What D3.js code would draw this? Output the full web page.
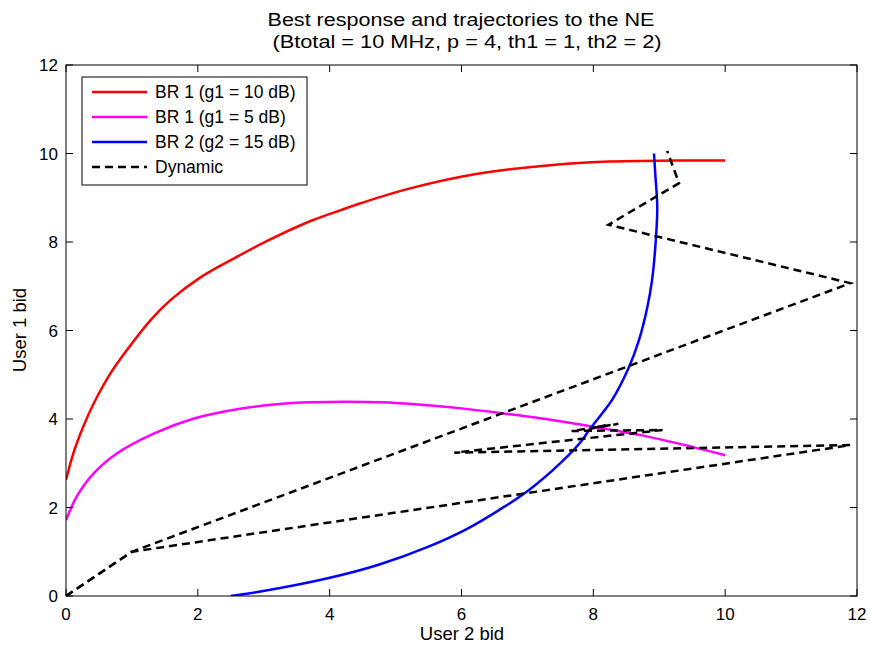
<!DOCTYPE html>
<html><head><meta charset="utf-8">
<script src="https://cdn.jsdelivr.net/npm/d3@7"></script>
<style>body{margin:0;background:#fff}svg{display:block}text{font-family:"Liberation Sans",Arial,sans-serif}</style>
</head><body>
<script>
// ---- data ----
const xTicks = [0,2,4,6,8,10,12];
const yTicks = [0,2,4,6,8,10,12];
const br1aX = [0,0.11,0.26,0.42,0.67,0.92,1.28,1.58,2.04,2.55,3.06,3.72,4.17,4.48,5.19,6.20,7.22,8.23,9.25,10.0];
const br1aY = [2.62,3.22,3.82,4.35,5.02,5.55,6.23,6.68,7.20,7.63,8.03,8.48,8.72,8.88,9.20,9.53,9.72,9.82,9.84,9.84];
const br1bX = [0,0.16,0.42,0.77,1.33,1.94,2.55,3.16,3.72,4.78,5.49,6.0,6.56,7.22,7.98,8.74,9.50,10.0];
const br1bY = [1.71,2.24,2.77,3.22,3.67,4.01,4.21,4.33,4.38,4.38,4.31,4.24,4.14,4.01,3.83,3.63,3.37,3.18];
const br2X = [2.50,2.95,3.97,4.73,5.49,6.10,6.61,7.02,7.52,7.83,7.93,8.13,8.28,8.54,8.69,8.82,8.89,8.94,8.97,8.94,8.92];
const br2Y = [0,0.10,0.40,0.70,1.11,1.53,1.98,2.39,3.03,3.52,3.74,4.12,4.42,5.17,5.77,6.53,7.13,7.88,8.78,9.53,10.0];
const dyn1X = [0,1,11.9,8.23,9.30,9.12];
const dyn1Y = [0,1,7.07,8.39,9.33,10.06];
const dyn2X = [0,1,11.9,5.89,9.05,7.67,8.38,7.95,8.22,8.05];
const dyn2Y = [0,1,3.41,3.24,3.75,3.73,3.89,3.78,3.86,3.82];
const legendLabels = ["BR 1 (g1 = 10 dB)","BR 1 (g1 = 5 dB)","BR 2 (g2 = 15 dB)","Dynamic"];
const colors = ["#ff0000","#ff00ff","#0000ff","#000000"];
const titleLines = ["Best response and trajectories to the NE","(Btotal = 10 MHz, p = 4, th1 = 1, th2 = 2)"];

const W=870,H=648;
const svg=d3.select("body").append("svg").attr("width",W).attr("height",H);
const L=66,R=857,T=65,B=596;
const x=d3.scaleLinear().domain([0,12]).range([L,R]);
const y=d3.scaleLinear().domain([0,12]).range([B,T]);

svg.append("clipPath").attr("id","c").append("rect").attr("x",L).attr("y",T).attr("width",R-L).attr("height",B-T);

const g=svg.append("g").attr("clip-path","url(#c)");
const smooth=d3.line().x(d=>x(d[0])).y(d=>y(d[1])).curve(d3.curveCatmullRom.alpha(0.5));
const line=d3.line().x(d=>x(d[0])).y(d=>y(d[1]));
const zip=(a,b)=>a.map((v,i)=>[v,b[i]]);
g.append("path").attr("d",smooth(zip(br1aX,br1aY))).attr("fill","none").attr("stroke",colors[0]).attr("stroke-width",2.5);
g.append("path").attr("d",smooth(zip(br1bX,br1bY))).attr("fill","none").attr("stroke",colors[1]).attr("stroke-width",2.5);
g.append("path").attr("d",smooth(zip(br2X,br2Y))).attr("fill","none").attr("stroke",colors[2]).attr("stroke-width",2.5);
[zip(dyn1X,dyn1Y),zip(dyn2X,dyn2Y)].forEach(d=>{
  g.append("path").attr("d",line(d)).attr("fill","none").attr("stroke","#000").attr("stroke-width",2.5).attr("stroke-dasharray","8,5");
});

// axes box
svg.append("rect").attr("x",L).attr("y",T).attr("width",R-L).attr("height",B-T).attr("fill","none").attr("stroke","#000").attr("stroke-width",1);
const tl=7;
const ax=svg.append("g").attr("stroke","#000").attr("stroke-width",1);
xTicks.forEach(t=>{
  ax.append("line").attr("x1",x(t)).attr("x2",x(t)).attr("y1",B).attr("y2",B-tl);
  ax.append("line").attr("x1",x(t)).attr("x2",x(t)).attr("y1",T).attr("y2",T+tl);
});
yTicks.forEach(t=>{
  ax.append("line").attr("y1",y(t)).attr("y2",y(t)).attr("x1",L).attr("x2",L+tl);
  ax.append("line").attr("y1",y(t)).attr("y2",y(t)).attr("x1",R).attr("x2",R-tl);
});
svg.append("g").selectAll("text").data(xTicks).join("text")
  .attr("x",d=>x(d)).attr("y",B+24).attr("text-anchor","middle").attr("font-size",17).text(d=>d);
svg.append("g").selectAll("text").data(yTicks).join("text")
  .attr("x",L-8).attr("y",d=>y(d)+6).attr("text-anchor","end").attr("font-size",17).text(d=>d);

svg.append("text").attr("x",461).attr("y",26).attr("text-anchor","middle").attr("font-size",17.5)
  .attr("textLength",387).attr("lengthAdjust","spacingAndGlyphs").text(titleLines[0]);
svg.append("text").attr("x",467).attr("y",48).attr("text-anchor","middle").attr("font-size",17.5)
  .attr("textLength",389).attr("lengthAdjust","spacingAndGlyphs").text(titleLines[1]);
svg.append("text").attr("x",462).attr("y",640).attr("text-anchor","middle").attr("font-size",18.5).text("User 2 bid");
svg.append("text").attr("transform","translate(26,330) rotate(-90)").attr("text-anchor","middle").attr("font-size",18.5).text("User 1 bid");

// legend
const lg=svg.append("g");
lg.append("rect").attr("x",82).attr("y",77).attr("width",225).attr("height",108).attr("fill","#fff").attr("stroke","#000").attr("stroke-width",1);
legendLabels.forEach((s,i)=>{
  const yy=92+i*25;
  lg.append("line").attr("x1",92).attr("x2",147).attr("y1",yy).attr("y2",yy).attr("stroke",colors[i]).attr("stroke-width",2.5)
    .attr("stroke-dasharray",i===3?"8,5":null);
  lg.append("text").attr("x",155).attr("y",yy+6).attr("font-size",17.5).text(s);
});
</script>
</body></html>
